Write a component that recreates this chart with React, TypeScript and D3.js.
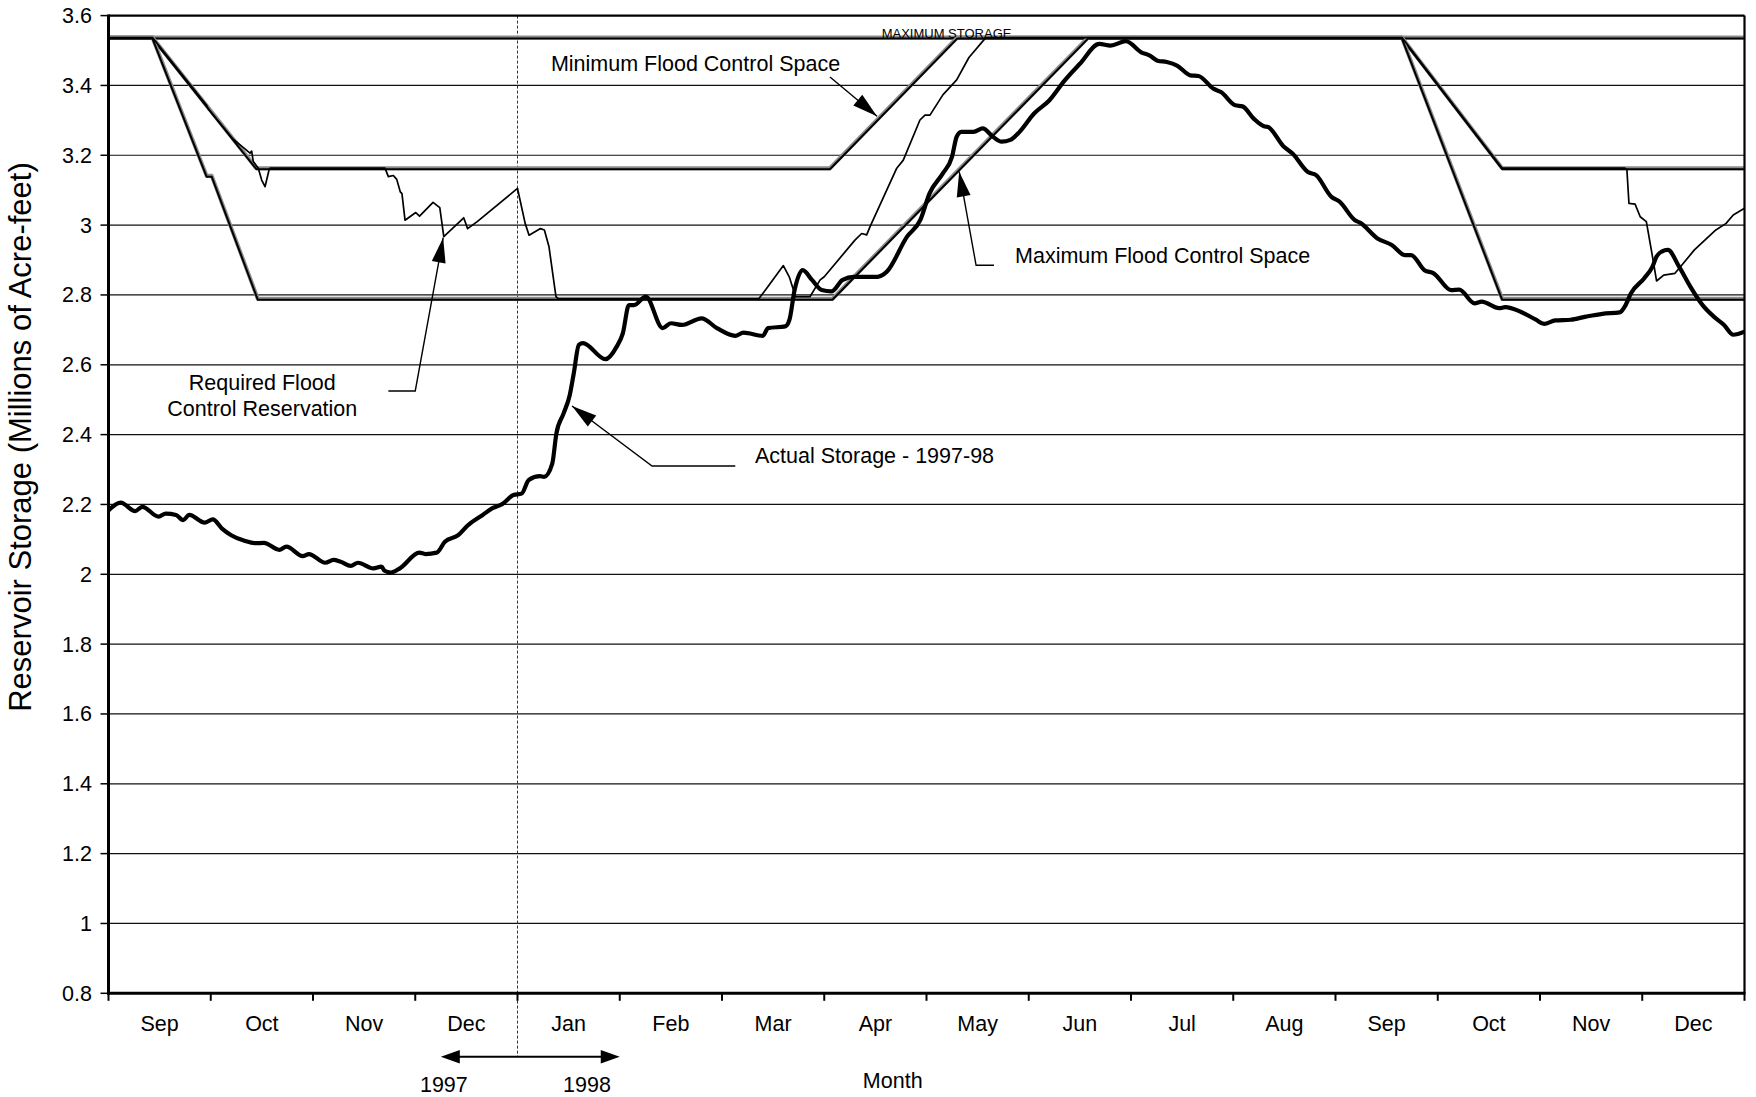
import React from "react";
import * as d3 from "d3";

// ---------- data ----------
const MONTHS = ["Sep", "Oct", "Nov", "Dec", "Jan", "Feb", "Mar", "Apr", "May", "Jun", "Jul", "Aug", "Sep", "Oct", "Nov", "Dec"];
const Y_TICKS = [0.8, 1, 1.2, 1.4, 1.6, 1.8, 2, 2.2, 2.4, 2.6, 2.8, 3, 3.2, 3.4, 3.6];
const MAX_STORAGE = 3.537;

// [month position from 1 Sep 1997, storage in MAF]
const actualStorage: [number, number][] = [
  [0.0, 2.183], [0.12, 2.205], [0.26, 2.181], [0.33, 2.193], [0.49, 2.165], [0.56, 2.174], [0.66, 2.17],
  [0.73, 2.155], [0.79, 2.17], [0.94, 2.148], [1.02, 2.157], [1.11, 2.131], [1.2, 2.112], [1.33, 2.096],
  [1.43, 2.089], [1.52, 2.09], [1.67, 2.07], [1.74, 2.079], [1.9, 2.052], [1.96, 2.058], [2.12, 2.033],
  [2.2, 2.041], [2.27, 2.036], [2.37, 2.024], [2.44, 2.033], [2.59, 2.017], [2.67, 2.022], [2.7, 2.01],
  [2.76, 2.005], [2.85, 2.017], [3.04, 2.062], [3.1, 2.058], [3.21, 2.062], [3.29, 2.093], [3.42, 2.112],
  [3.51, 2.139], [3.66, 2.17], [3.76, 2.19], [3.85, 2.201], [3.96, 2.227], [4.04, 2.231], [4.11, 2.27],
  [4.22, 2.281], [4.26, 2.279], [4.34, 2.317], [4.38, 2.403], [4.45, 2.46], [4.51, 2.512], [4.55, 2.575],
  [4.6, 2.657], [4.64, 2.662], [4.86, 2.616], [4.97, 2.652], [5.03, 2.69], [5.09, 2.771], [5.14, 2.771],
  [5.255, 2.795], [5.42, 2.705], [5.5, 2.719], [5.61, 2.714], [5.8, 2.733], [5.95, 2.705], [6.13, 2.683],
  [6.21, 2.692], [6.4, 2.683], [6.45, 2.705], [6.62, 2.71], [6.66, 2.729], [6.71, 2.814], [6.79, 2.871],
  [6.88, 2.843], [6.975, 2.814], [7.07, 2.81], [7.18, 2.843], [7.29, 2.852], [7.52, 2.852], [7.61, 2.866],
  [7.81, 2.967], [7.94, 3.015], [8.03, 3.091], [8.16, 3.148], [8.25, 3.196], [8.295, 3.253], [8.34, 3.267],
  [8.46, 3.267], [8.55, 3.277], [8.65, 3.253], [8.735, 3.239], [8.82, 3.244], [8.91, 3.267], [9.05, 3.319],
  [9.2, 3.357], [9.35, 3.414], [9.5, 3.462], [9.69, 3.519], [9.8, 3.514], [9.95, 3.527], [10.1, 3.495],
  [10.18, 3.486], [10.26, 3.471], [10.35, 3.467], [10.45, 3.457], [10.58, 3.429], [10.66, 3.427],
  [10.81, 3.39], [10.88, 3.381], [11.02, 3.343], [11.09, 3.34], [11.2, 3.305], [11.3, 3.283], [11.34, 3.281],
  [11.49, 3.226], [11.58, 3.205], [11.73, 3.152], [11.81, 3.143], [11.96, 3.081], [12.04, 3.067],
  [12.19, 3.014], [12.24, 3.007], [12.41, 2.962], [12.55, 2.943], [12.68, 2.914], [12.74, 2.914],
  [12.87, 2.871], [12.96, 2.862], [13.13, 2.814], [13.21, 2.815], [13.36, 2.776], [13.43, 2.781],
  [13.6, 2.762], [13.66, 2.765], [13.81, 2.752], [13.96, 2.729], [14.04, 2.717], [14.15, 2.727],
  [14.3, 2.729], [14.45, 2.738], [14.61, 2.746], [14.78, 2.75], [14.83, 2.767], [14.89, 2.805],
  [15.02, 2.848], [15.1, 2.881], [15.14, 2.91], [15.19, 2.924], [15.25, 2.929], [15.36, 2.881],
  [15.47, 2.824], [15.59, 2.771], [15.7, 2.738], [15.8, 2.714], [15.89, 2.686], [16.0, 2.695],
];

const requiredReservation: [number, number][] = [
  [0, 3.537], [0.43, 3.537], [0.96, 3.343], [0.975, 3.333], [1.22, 3.246], [1.384, 3.206], [1.4, 3.212],
  [1.416, 3.182], [1.465, 3.163], [1.498, 3.129], [1.531, 3.11], [1.57, 3.158], [1.58, 3.163],
  [2.704, 3.163], [2.737, 3.139], [2.786, 3.142], [2.819, 3.131], [2.854, 3.095], [2.87, 3.09],
  [2.9, 3.014], [3.005, 3.036], [3.042, 3.026], [3.174, 3.065], [3.24, 3.05], [3.279, 2.967],
  [3.474, 3.021], [3.512, 2.99], [3.606, 3.01], [4.0, 3.105], [4.075, 3.005], [4.113, 2.971],
  [4.225, 2.99], [4.263, 2.986], [4.308, 2.938], [4.376, 2.795], [4.4, 2.789], [6.36, 2.789],
  [6.45, 2.824], [6.6, 2.884], [6.66, 2.85], [6.72, 2.795], [6.86, 2.795], [6.96, 2.843], [7.0, 2.852],
  [7.3, 2.957], [7.366, 2.976], [7.415, 2.972], [7.447, 2.995], [7.709, 3.163], [7.773, 3.186],
  [7.936, 3.301], [7.985, 3.315], [8.034, 3.315], [8.16, 3.373], [8.295, 3.416], [8.415, 3.48],
  [8.58, 3.537], [12.65, 3.537], [13.63, 3.163], [14.83, 3.163], [14.85, 3.158], [14.87, 3.062],
  [14.93, 3.06], [14.98, 3.024], [15.04, 3.01], [15.1, 2.91], [15.14, 2.84], [15.21, 2.857],
  [15.32, 2.862], [15.4, 2.89], [15.51, 2.929], [15.72, 2.986], [15.82, 3.005], [15.89, 3.029], [16.0, 3.048],
];

const minFloodSpace: [number, number][] = [
  [0, 3.537], [0.43, 3.537], [1.446, 3.163], [7.056, 3.163], [8.3, 3.537], [12.65, 3.537], [13.63, 3.163], [16, 3.163],
];

const maxFloodSpace: [number, number][] = [
  [0, 3.537], [0.43, 3.537], [0.96, 3.141], [1.01, 3.141], [1.46, 2.789], [7.08, 2.789], [9.58, 3.537],
  [12.65, 3.537], [13.63, 2.789], [16, 2.789],
];

const maxStorageLine: [number, number][] = [[0, MAX_STORAGE], [16, MAX_STORAGE]];

// annotation anchors, in [month, storage]
const minFcsLeader: [number, number][] = [[7.056, 3.424], [7.516, 3.312]];
const maxFcsLeader: [number, number][] = [[8.66, 2.885], [8.485, 2.885], [8.32, 3.153]];
const reqLeader: [number, number][] = [[2.737, 2.525], [3.0, 2.525], [3.273, 2.964]];
const actualLeader: [number, number][] = [[6.13, 2.31], [5.316, 2.31], [4.533, 2.482]];

// ---------- layout ----------
const W = 1756;
const H = 1097;
const X0 = 108.5;
const X1 = 1744.5;
const Y0 = 993.3;
const Y1 = 15.6;
const FONT = "'Liberation Sans', Arial, Helvetica, sans-serif";

function arrowHead(tip: [number, number], from: [number, number], len = 25, hw = 7) {
  const dx = tip[0] - from[0];
  const dy = tip[1] - from[1];
  const d = Math.hypot(dx, dy);
  const ux = dx / d;
  const uy = dy / d;
  const bx = tip[0] - ux * len;
  const by = tip[1] - uy * len;
  return `${tip[0]},${tip[1]} ${bx - uy * hw},${by + ux * hw} ${bx + uy * hw},${by - ux * hw}`;
}

export default function App() {
  const x = d3.scaleLinear().domain([0, 16]).range([X0, X1]);
  const y = d3.scaleLinear().domain([0.8, 3.6]).range([Y0, Y1]);
  const line = d3.line<[number, number]>().x((d) => x(d[0])).y((d) => y(d[1]));
  const smooth = d3
    .line<[number, number]>()
    .x((d) => x(d[0]))
    .y((d) => y(d[1]))
    .curve(d3.curveMonotoneX);

  const px = (p: [number, number]): [number, number] => [x(p[0]), y(p[1])];

  const leader = (pts: [number, number][], key: string) => {
    const P = pts.map(px);
    const tip = P[P.length - 1];
    const prev = P[P.length - 2];
    return (
      <g key={key}>
        <polyline points={P.map((p) => p.join(",")).join(" ")} fill="none" stroke="#000" strokeWidth={1.4} />
        <polygon points={arrowHead(tip, prev)} fill="#000" />
      </g>
    );
  };

  const flood = (data: [number, number][], key: string) => (
    <g key={key}>
      <path d={line(data) || ""} fill="none" stroke="#8c8c8c" strokeWidth={4} strokeLinejoin="round" />
      <path d={line(data) || ""} fill="none" stroke="#000" strokeWidth={2} strokeLinejoin="round" transform="translate(0,1)" />
    </g>
  );

  const monthW = x(1) - x(0);
  const yearY = 1056.7;

  return (
    <svg
      width={W}
      height={H}
      viewBox={`0 0 ${W} ${H}`}
      style={{ position: "absolute", left: 0, top: 0, background: "#fff" }}
      fontFamily={FONT}
    >
      <rect x={0} y={0} width={W} height={H} fill="#fff" />
      {/* gridlines */}
      {Y_TICKS.filter((t) => t > 0.8 && t < 3.6).map((t) => (
        <line key={`g${t}`} x1={X0} x2={X1} y1={y(t)} y2={y(t)} stroke="#111" strokeWidth={1.2} />
      ))}
      {/* year divider */}
      <line x1={x(4)} x2={x(4)} y1={Y1} y2={yearY} stroke="#333" strokeWidth={1} strokeDasharray="3 2" />

      {/* flood control lines */}
      {flood(maxStorageLine, "ms")}
      {flood(minFloodSpace, "min")}
      {flood(maxFloodSpace, "max")}

      {/* required reservation */}
      <path d={line(requiredReservation) || ""} fill="none" stroke="#000" strokeWidth={1.7} strokeLinejoin="round" />
      {/* actual storage */}
      <path d={smooth(actualStorage) || ""} fill="none" stroke="#000" strokeWidth={4.2} strokeLinejoin="round" />

      {/* frame */}
      <line x1={X0} x2={X1} y1={Y1} y2={Y1} stroke="#000" strokeWidth={2.2} />
      <line x1={X1} x2={X1} y1={Y1} y2={Y0} stroke="#000" strokeWidth={2.2} />
      <line x1={X0} x2={X0} y1={Y1 - 1} y2={Y0 + 1.5} stroke="#000" strokeWidth={3} />
      <line x1={X0 - 1.5} x2={X1 + 1} y1={Y0} y2={Y0} stroke="#000" strokeWidth={3} />

      {/* y ticks */}
      {Y_TICKS.map((t) => (
        <g key={`yt${t}`}>
          <line x1={X0 - 8} x2={X0} y1={y(t)} y2={y(t)} stroke="#000" strokeWidth={1.5} />
          <text x={92} y={y(t) + 7.5} textAnchor="end" fontSize={21.5} fill="#000">
            {String(+t.toFixed(1))}
          </text>
        </g>
      ))}
      {/* x ticks */}
      {d3.range(0, 17).map((i) => (
        <line key={`xt${i}`} x1={x(i)} x2={x(i)} y1={Y0} y2={Y0 + 7.5} stroke="#000" strokeWidth={2} />
      ))}
      {MONTHS.map((m, i) => (
        <text key={`m${i}`} x={x(i) + monthW / 2} y={1031} textAnchor="middle" fontSize={21.5} fill="#000">
          {m}
        </text>
      ))}

      {/* axis titles */}
      <text x={x(7.67)} y={1088} textAnchor="middle" fontSize={21.5}>
        Month
      </text>
      <text transform={`translate(31, 437) rotate(-90)`} textAnchor="middle" fontSize={31}>
        Reservoir Storage (Millions of Acre-feet)
      </text>

      {/* year arrow */}
      <line x1={x(3.25) + 10} x2={x(5.0) - 10} y1={yearY} y2={yearY} stroke="#000" strokeWidth={2} />
      <polygon points={arrowHead([x(3.25), yearY], [x(4), yearY], 19, 6.7)} fill="#000" />
      <polygon points={arrowHead([x(5.0), yearY], [x(4), yearY], 19, 6.7)} fill="#000" />
      <text x={x(3.28)} y={1092} textAnchor="middle" fontSize={21.5}>
        1997
      </text>
      <text x={x(4.68)} y={1092} textAnchor="middle" fontSize={21.5}>
        1998
      </text>

      {/* annotations */}
      <text x={x(8.196)} y={y(MAX_STORAGE) + 0.5} textAnchor="middle" fontSize={13}>
        MAXIMUM STORAGE
      </text>
      <text x={x(4.327)} y={y(3.442)} fontSize={21.5}>
        Minimum Flood Control Space
      </text>
      {leader(minFcsLeader, "l1")}
      <text x={x(8.866)} y={y(2.891)} fontSize={21.5}>
        Maximum Flood Control Space
      </text>
      {leader(maxFcsLeader, "l2")}
      <text x={x(1.504)} y={y(2.528)} textAnchor="middle" fontSize={21.5}>
        Required Flood
      </text>
      <text x={x(1.504)} y={y(2.452)} textAnchor="middle" fontSize={21.5}>
        Control Reservation
      </text>
      {leader(reqLeader, "l3")}
      <text x={x(6.323)} y={y(2.319)} fontSize={21.5}>
        Actual Storage - 1997-98
      </text>
      {leader(actualLeader, "l4")}
    </svg>
  );
}
